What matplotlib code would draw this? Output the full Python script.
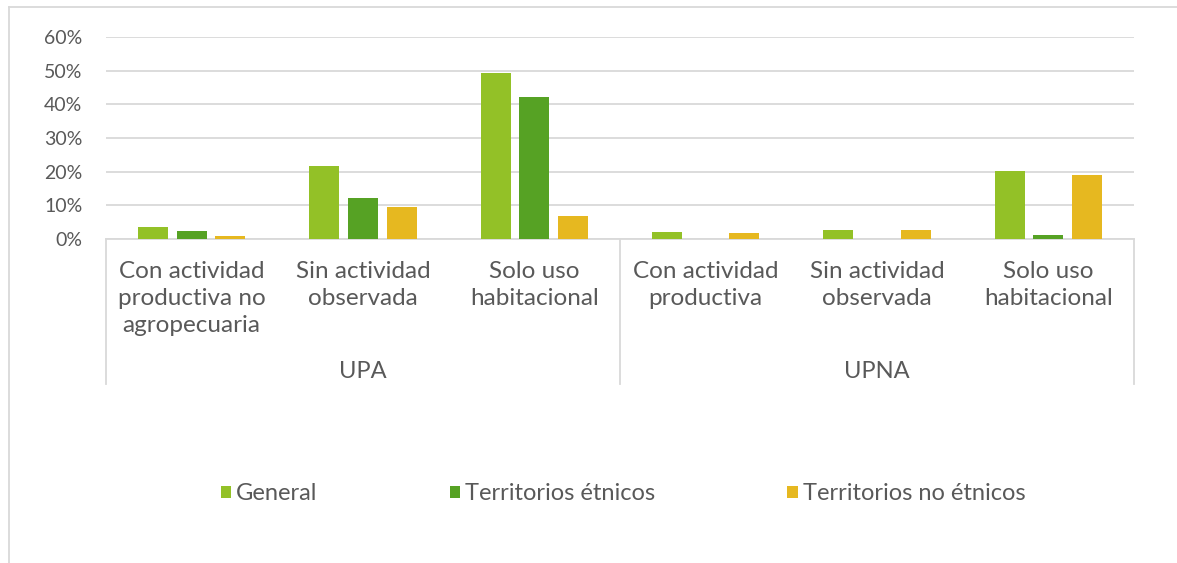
import numpy as np
import matplotlib
matplotlib.use("Agg")
import matplotlib.pyplot as plt
from matplotlib.lines import Line2D
from matplotlib.ticker import PercentFormatter

plt.rcParams['font.family'] = ['Lato', 'DejaVu Sans']

# data (shares)
subcats = ["Con actividad\nproductiva no\nagropecuaria", "Sin actividad\nobservada",
           "Solo uso\nhabitacional", "Con actividad\nproductiva", "Sin actividad\nobservada",
           "Solo uso\nhabitacional"]
groups = ["UPA", "UPNA"]
series = ["General", "Territorios étnicos", "Territorios no étnicos"]
general = [0.035, 0.216, 0.493, 0.020, 0.028, 0.203]
etnicos = [0.024, 0.121, 0.422, 0.0, 0.0, 0.011]
no_etnicos = [0.009, 0.094, 0.069, 0.019, 0.028, 0.189]
colors = ["#93C127", "#56A224", "#E6B820"]

W, H = 1177, 563
fig = plt.figure(figsize=(W / 100, H / 100), dpi=100)
ax = fig.add_axes([106 / W, 1 - 239 / H, (1134 - 106) / W, (239 - 37) / H])

txt = "#595959"
grid = "#D9D9D9"
x = np.arange(len(subcats)) + 0.5
off = 0.225
bw = 0.175
bars = []
for k, (vals, c) in enumerate(zip([general, etnicos, no_etnicos], colors)):
    b = ax.bar(x + (k - 1) * off, vals, bw, color=c, label=series[k], zorder=3)
    bars.append(b)

ax.set_xlim(0, len(subcats))
ax.set_ylim(0, 0.6)
ax.set_yticks(np.arange(0, 0.61, 0.1))
ax.yaxis.set_major_formatter(PercentFormatter(1.0, decimals=0))
ax.grid(axis='y', color=grid, lw=1.3, zorder=0)
for s in ["top", "right", "left"]:
    ax.spines[s].set_visible(False)
ax.spines["bottom"].set_color(grid)
ax.spines["bottom"].set_linewidth(1.3)
ax.tick_params(axis='y', length=0, pad=17, labelsize=14, labelcolor=txt)
ax.set_xticks([])

# two-level category axis
trans = ax.get_xaxis_transform()
for xi, lab in zip(x, subcats):
    ax.text(xi, -0.11, lab, transform=trans, ha='center', va='top', fontsize=17.5,
            color=txt, linespacing=1.36)
for gi, g in enumerate(groups):
    ax.text(3 * gi + 1.5, -0.655, g, transform=trans, ha='center', va='center',
            fontsize=17, color=txt)
ybot = -(384 - 239) / (239 - 37)
for xs in [0, 3, 6]:
    ax.add_line(Line2D([xs, xs], [0, ybot], transform=trans, color=grid, lw=1.3,
                       clip_on=False))

# chart border
fig.add_artist(Line2D([9 / W, 1], [1 - 7 / H, 1 - 7 / H], color=grid, lw=1.3))
fig.add_artist(Line2D([9 / W, 9 / W], [0, 1 - 7 / H], color=grid, lw=1.3))

leg = fig.legend(handles=bars, labels=series, loc='center', ncol=3,
                 bbox_to_anchor=(623 / W, 1 - 494 / H), frameon=False,
                 fontsize=17, handlelength=0.45, handleheight=0.45, handletextpad=0.2,
                 columnspacing=5.6)
for t in leg.get_texts():
    t.set_color(txt)

fig.savefig("out.png", dpi=100)
